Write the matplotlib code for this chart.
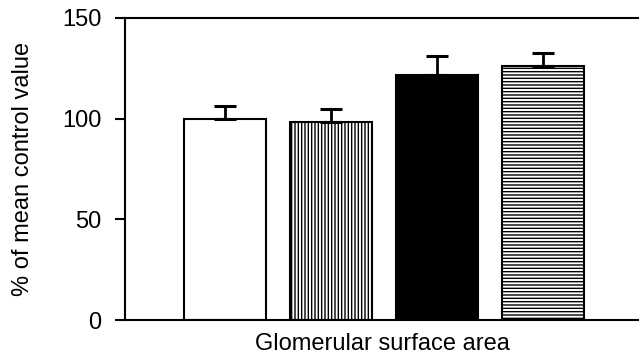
import matplotlib
matplotlib.use("Agg")
import matplotlib.pyplot as plt

categories = ["Group 1", "Group 2", "Group 3", "Group 4"]
values = [100, 98.5, 121.5, 126.3]
errors = [6.2, 6.5, 9.5, 6.2]
yticks = [0, 50, 100, 150]

plt.rcParams['font.family'] = ['Liberation Sans', 'DejaVu Sans']
plt.rcParams['hatch.linewidth'] = 1.0

fig = plt.figure(figsize=(6.39, 3.57), dpi=100)
ax = fig.add_axes([0.1956, 0.1036, 0.8044, 0.846])

x = list(range(len(categories)))
faces = ["white", "white", "black", "white"]
hatches = [None, "|||||", None, "-----"]
for xi, v, e, fc, h in zip(x, values, errors, faces, hatches):
    ax.bar(xi, v, width=0.77, color=fc, edgecolor="black", linewidth=1.5,
           hatch=h, zorder=2)
    ax.errorbar(xi, v, yerr=[[0], [e]], fmt="none", ecolor="black",
                elinewidth=2.0, capsize=8, capthick=2.2, zorder=3)

ax.set_xlim(-0.943, 3.906)
ax.set_ylim(0, 150)
ax.set_yticks(yticks)
ax.set_xticks([])
ax.spines['right'].set_visible(False)
for s in ['left', 'top', 'bottom']:
    ax.spines[s].set_linewidth(1.5)
ax.tick_params(axis='y', direction='out', length=7, width=1.5, labelsize=17, pad=10)
ax.set_ylabel("% of mean control value", fontsize=17, labelpad=20)
ax.set_xlabel("Glomerular surface area", fontsize=17, labelpad=9)

fig.savefig("out.png", dpi=100)
